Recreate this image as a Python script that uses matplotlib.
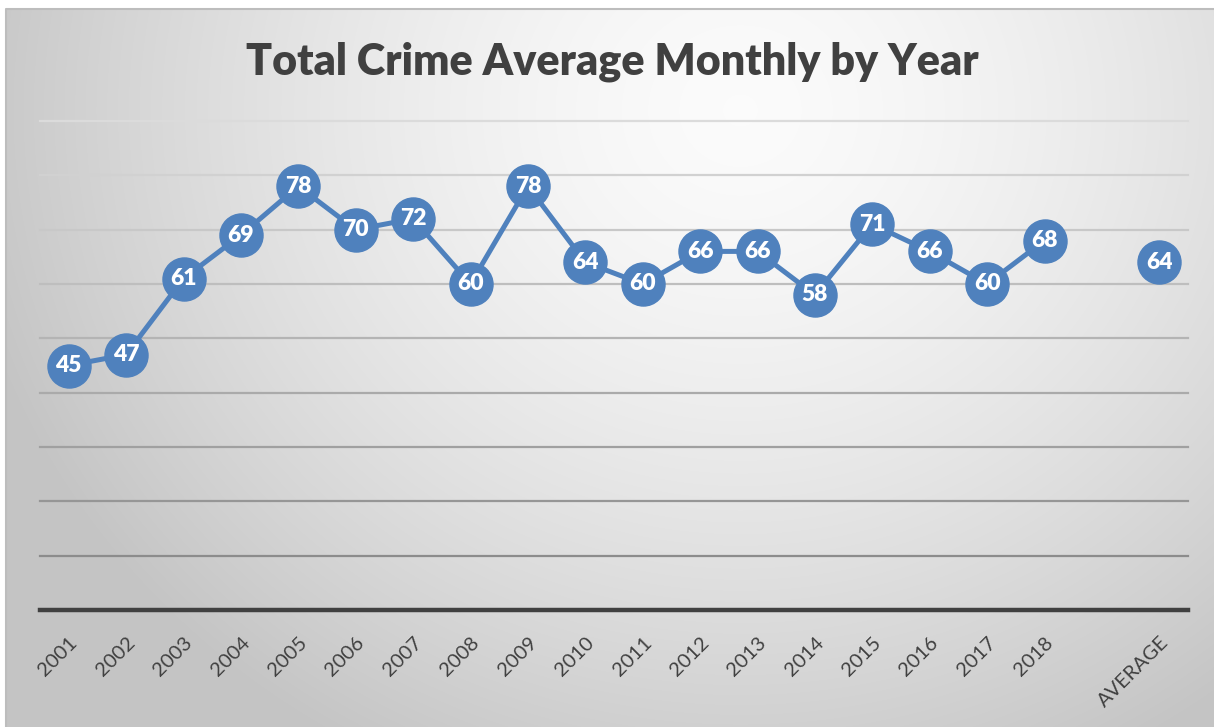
import numpy as np
import matplotlib.pyplot as plt
from matplotlib.patches import Rectangle

years = ['2001', '2002', '2003', '2004', '2005', '2006', '2007', '2008', '2009',
         '2010', '2011', '2012', '2013', '2014', '2015', '2016', '2017', '2018',
         '', 'AVERAGE']
values = [45, 47, 61, 69, 78, 70, 72, 60, 78, 64, 60, 66, 66, 58, 71, 66, 60, 68,
          np.nan, 64]
grid_levels = [10, 20, 30, 40, 50, 60, 70, 80, 90]

W, H = 1214, 727
fig = plt.figure(figsize=(W / 100, H / 100), dpi=100)
fig.patch.set_facecolor('white')

# fundo com gradiente radial
bg = fig.add_axes([0, 0, 1, 1], zorder=-10)
yy, xx = np.mgrid[0:H, 0:W]
r = np.sqrt(((xx - 740) / 780.0) ** 2 + ((yy - 110) / 720.0) ** 2)
g = 0.985 - 0.21 * np.clip(r, 0, 1.05) ** 1.5
g = np.clip(g, 0.77, 1)
img = np.dstack([g, g, g])
img[:8, :, :] = 1.0
img[:, :5, :] = 1.0
bg.imshow(img, extent=[0, W, H, 0], aspect='auto', interpolation='bilinear')
bg.add_patch(Rectangle((5.5, 8.5), W, H, fill=False, ec='#bdbdbd', lw=1.5))
bg.set_xlim(0, W)
bg.set_ylim(H, 0)
bg.axis('off')

ax = fig.add_axes([40 / W, (H - 610) / H, 1148 / W, (610 - 121) / H])
ax.patch.set_alpha(0)
x = np.arange(len(years))
ax.set_xlim(-0.5, len(years) - 0.5)
ax.set_ylim(0, 90)

# linhas de grade (mais claras em cima, mais escuras embaixo)
for lv in grid_levels:
    t = (lv - 10) / 80.0
    c = 0.55 + t * (0.86 - 0.55)
    ax.axhline(lv, color=(c, c, c), lw=1.6, zorder=1, clip_on=False)
ax.axhline(0, color='#404040', lw=3.2, zorder=2, clip_on=False)

ax.plot(x, values, color='#4f81bd', lw=3.6, marker='o', markersize=31,
        markerfacecolor='#4f81bd', markeredgecolor='#4f81bd', zorder=3,
        clip_on=False)
for xi, v in zip(x, values):
    if np.isnan(v):
        continue
    ax.text(xi, v, str(v), ha='center', va='center', color='white',
            fontsize=16.5, fontweight='heavy', family='Lato', zorder=4)

ax.set_xticks(x)
ax.set_xticklabels(years, rotation=45, ha='right', rotation_mode='anchor',
                   fontsize=14.5, color='#404040', family='Lato')
ax.tick_params(axis='x', length=0, pad=17)
ax.set_yticks([])
for s in ax.spines.values():
    s.set_visible(False)

fig.text(612 / W, 1 - 62 / H, 'Total Crime Average Monthly by Year',
         ha='center', va='center', fontsize=31, fontweight='heavy',
         color='#404040', family='Lato')

fig.savefig('out.png', dpi=100)
